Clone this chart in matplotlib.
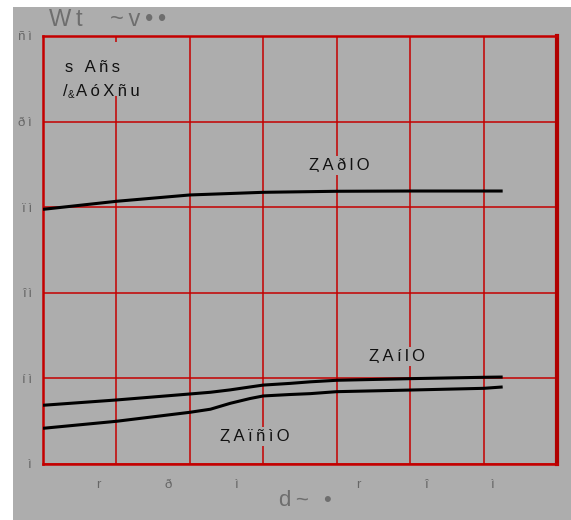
import matplotlib.pyplot as plt
from matplotlib.patches import Rectangle

plt.rcParams['font.family'] = ['Liberation Sans', 'DejaVu Sans']

BG = "#adadad"
RED = "#c40000"

# curves (x in grid columns, y in axis units)
top_x = [0, 1, 2, 3, 4, 5, 6.26]
top_y = [29.75, 30.69, 31.43, 31.74, 31.86, 31.89, 31.89]

mid_x = [0, 1, 2, 2.28, 2.55, 2.82, 3, 3.37, 3.64, 4, 5, 6, 6.26]
mid_y = [6.86, 7.48, 8.18, 8.38, 8.66, 9.0, 9.22, 9.42, 9.6, 9.78, 9.97, 10.13, 10.16]

low_x = [0, 1, 2, 2.28, 2.55, 2.82, 3, 3.37, 3.64, 4, 5, 6, 6.26]
low_y = [4.17, 4.99, 6.04, 6.4, 7.09, 7.65, 7.95, 8.12, 8.22, 8.45, 8.64, 8.84, 9.0]

curve_labels = ["ȤAðlO", "ȤAílO", "ȤAïñìO"]
curve_label_pos = [(4.03, 34.9), (4.82, 12.6), (2.88, 3.27)]

y_ticks = [0, 10, 20, 30, 40, 50]
y_tick_labels = ["ì", "íì", "îì", "ïì", "ðì", "ñì"]
x_label_pos = [0.76, 1.70, 2.64, 4.29, 5.22, 6.13]
x_tick_labels = ["r", "ð", "ì", "r", "î", "ì"]

title_text = "Wt  ~v••"
xlabel_text = "d~ •"
legend_line1 = "s Añs"
legend_line2 = ["/", "&", "AóXñu"]


def spaced(s, sep="\u2009"):
    return sep.join(s)


fig = plt.figure(figsize=(5.71, 5.2), dpi=100, facecolor="white")
# gray panel leaves a thin white strip on the top and left
fig.patches.append(Rectangle((12.7 / 571, 0), 1, 1 - 7.3 / 520,
                             transform=fig.transFigure, facecolor=BG,
                             edgecolor="none", zorder=-10))

ax = fig.add_axes([43 / 571, 1 - 464 / 520, 514 / 571, 428 / 520])
ax.set_facecolor(BG)
ax.set_xlim(0, 7)
ax.set_ylim(0, 50)

ax.set_xticks(range(8))
ax.set_yticks(y_ticks)
ax.grid(True, color=RED, linewidth=1.1)
ax.set_axisbelow(True)
ax.tick_params(axis="x", which="major", length=0, labelbottom=False)
ax.set_xticks(x_label_pos, minor=True)
ax.set_xticklabels([spaced(t) for t in x_tick_labels], minor=True)
ax.tick_params(axis="x", which="minor", length=0, pad=11, labelsize=9.5,
               labelcolor="#666666")
ax.set_yticklabels([spaced(t) for t in y_tick_labels])
ax.tick_params(axis="y", length=0, pad=8, labelsize=9.5, labelcolor="#666666")

for side in ["left", "bottom", "top"]:
    ax.spines[side].set_color(RED)
    ax.spines[side].set_linewidth(1.8)
ax.spines["right"].set_color("#b00000")
ax.spines["right"].set_linewidth(3)

for xs, ys in [(top_x, top_y), (mid_x, mid_y), (low_x, low_y)]:
    ax.plot(xs, ys, color="black", linewidth=2.2, zorder=3,
            solid_joinstyle="round", solid_capstyle="butt")

for lab, (lx, ly) in zip(curve_labels, curve_label_pos):
    ax.text(lx, ly, spaced(lab), ha="center", va="center", fontsize=12,
            color="#111111", zorder=4,
            bbox=dict(facecolor=BG, edgecolor="none", pad=1.5))

# legend block: gray box hides the grid behind it
ax.add_patch(Rectangle((0.015, 0.86), 0.17, 0.125, transform=ax.transAxes,
                       facecolor=BG, edgecolor="none", zorder=2))
fig.text(65 / 571, 1 - 67 / 520, spaced(legend_line1), ha="left",
         va="center", fontsize=12, color="#111111")
fig.text(63 / 571, 1 - 91 / 520, legend_line2[0], ha="left", va="center",
         fontsize=12, color="#111111")
fig.text(68 / 571, 1 - 95 / 520, legend_line2[1], ha="left", va="center",
         fontsize=7, color="#111111")
fig.text(76 / 571, 1 - 91 / 520, spaced(legend_line2[2]), ha="left",
         va="center", fontsize=12, color="#111111")

fig.text(49 / 571, 1 - 20 / 520, spaced(title_text), ha="left",
         va="center", fontsize=17, color="#6e6e6e")
fig.text(305 / 571, 1 - 501 / 520, spaced(xlabel_text), ha="center",
         va="center", fontsize=16, color="#6e6e6e")

fig.savefig("out.png", dpi=100, facecolor="white")
